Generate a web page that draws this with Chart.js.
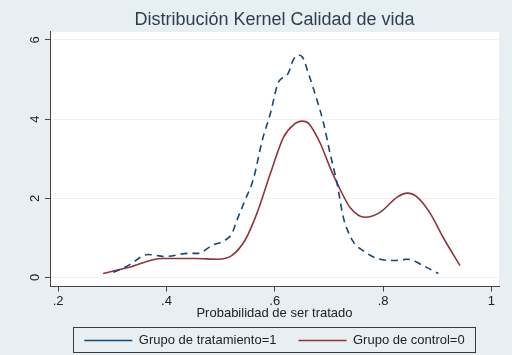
<!DOCTYPE html>
<html>
<head>
<meta charset="utf-8">
<script src="https://cdn.jsdelivr.net/npm/chart.js@4.4.0/dist/chart.umd.min.js"></script>
<style>
  html, body { margin: 0; padding: 0; background: #e8eff2; }
  canvas { display: block; }
</style>
</head>
<body>
<canvas id="kdChart" width="512" height="355"></canvas>
<script>
// data

const tratX = [0.302, 0.329, 0.366, 0.398, 0.440, 0.459, 0.484, 0.508, 0.521, 0.530, 0.545, 0.560, 0.577, 0.592, 0.606, 0.614, 0.625, 0.634, 0.643, 0.651, 0.662, 0.678, 0.690, 0.702, 0.715, 0.726, 0.736, 0.746, 0.763, 0.789, 0.819, 0.846, 0.874, 0.902];
const tratY = [0.13, 0.30, 0.58, 0.53, 0.61, 0.61, 0.81, 0.94, 1.11, 1.44, 1.95, 2.46, 3.47, 4.15, 4.91, 5.04, 5.16, 5.49, 5.62, 5.57, 5.16, 4.48, 3.90, 3.14, 2.38, 1.55, 1.14, 0.88, 0.68, 0.48, 0.43, 0.46, 0.30, 0.10];

const ctrlX = [0.283, 0.329, 0.392, 0.453, 0.495, 0.521, 0.545, 0.567, 0.592, 0.616, 0.634, 0.651, 0.662, 0.684, 0.702, 0.718, 0.739, 0.767, 0.795, 0.826, 0.845, 0.863, 0.887, 0.911, 0.942];
const ctrlY = [0.10, 0.25, 0.48, 0.48, 0.46, 0.56, 0.94, 1.62, 2.63, 3.54, 3.85, 3.95, 3.90, 3.39, 2.78, 2.30, 1.77, 1.52, 1.65, 2.03, 2.13, 2.03, 1.62, 1.01, 0.30];

const xTicks = [0.2, 0.4, 0.6, 0.8, 1];
const yTicks = [0, 2, 4, 6];

const seriesNames = ['Grupo de tratamiento=1', 'Grupo de control=0'];

const textFont = 'Liberation Sans';

function toPoints(xs, ys) {
  return xs.map((x, i) => ({ x: x, y: ys[i] }));
}

// white plot region, rotated y labels, frame round the legend
const stataLook = {
  id: 'stataLook',
  beforeDraw(chart) {
    const a = chart.chartArea, ctx = chart.ctx;
    ctx.save();
    ctx.fillStyle = '#ffffff';
    ctx.fillRect(a.left, a.top, a.right - a.left, a.bottom - a.top);
    ctx.restore();
  },
  afterDraw(chart) {
    const ctx = chart.ctx;
    const ys = chart.scales.y;

    // y tick labels, turned like Stata does
    ctx.save();
    ctx.fillStyle = '#222222';
    ctx.font = '13px "' + textFont + '"';
    ctx.textAlign = 'center';
    ctx.textBaseline = 'middle';
    yTicks.forEach(v => {
      const py = ys.getPixelForValue(v);
      ctx.save();
      ctx.translate(ys.right - 15, py);
      ctx.rotate(-Math.PI / 2);
      ctx.fillText(String(v), 0, 0);
      ctx.restore();
    });
    ctx.restore();

    const lg = chart.legend;
    if (!lg || !lg.legendHitBoxes.length) return;
    const boxes = lg.legendHitBoxes;
    const first = boxes[0], last = boxes[boxes.length - 1];
    const l = first.left - 11, r = last.left + last.width + 11;
    const t = first.top - 7, b = first.top + first.height + 5;
    ctx.save();
    ctx.strokeStyle = '#3a3a3a';
    ctx.lineWidth = 1;
    ctx.strokeRect(Math.round(l) + 0.5, Math.round(t) + 0.5, Math.round(r - l), Math.round(b - t));
    ctx.restore();
  }
};

const ctx = document.getElementById('kdChart').getContext('2d');

const kdChart = new Chart(ctx, {
  type: 'line',
  data: {
    datasets: [{
      label: seriesNames[0],
      data: toPoints(tratX, tratY),
      borderColor: '#1a476f',
      backgroundColor: '#1a476f',
      borderWidth: 1.6,
      borderDash: [7, 5],
      pointRadius: 0,
      cubicInterpolationMode: 'monotone',
      fill: false
    }, {
      label: seriesNames[1],
      data: toPoints(ctrlX, ctrlY),
      borderColor: '#90353b',
      backgroundColor: '#90353b',
      borderWidth: 1.6,
      pointRadius: 0,
      cubicInterpolationMode: 'monotone',
      fill: false
    }]
  },
  options: {
    responsive: false,
    animation: false,
    devicePixelRatio: 1,
    layout: { padding: { left: 0, right: 13, top: 9, bottom: -2 } },
    plugins: {
      title: {
        display: true,
        fullSize: false,
        text: 'Distribución Kernel Calidad de vida',
        color: '#2e3e4e',
        font: { family: textFont, size: 18, weight: 'normal' },
        padding: { top: 0, bottom: 1.4 }
      },
      legend: {
        position: 'bottom',
        fullSize: false,
        labels: {
          usePointStyle: true,
          pointStyle: 'line',
          pointStyleWidth: 48,
          boxWidth: 48,
          boxHeight: 13,
          padding: 22,
          color: '#222222',
          font: { family: textFont, size: 13 }
        }
      },
      tooltip: { enabled: false }
    },
    scales: {
      x: {
        type: 'linear',
        min: 0.185,
        max: 1.014,
        afterBuildTicks: (s) => { s.ticks = xTicks.map(v => ({ value: v })); },
        afterFit: (s) => { s.height = 25.4; },
        ticks: {
          color: '#222222',
          font: { family: textFont, size: 13 },
          padding: 2,
          maxRotation: 0,
          callback: (v) => v === 1 ? '1' : String(v).replace('0.', '.')
        },
        grid: { drawOnChartArea: false, tickLength: 5, tickColor: '#444444' },
        border: { color: '#444444' },
        title: {
          display: true,
          text: 'Probabilidad de ser tratado',
          color: '#222222',
          font: { family: textFont, size: 13 },
          padding: { top: 0, bottom: -9.4 }
        }
      },
      y: {
        min: -0.23,
        max: 6.2,
        afterBuildTicks: (s) => { s.ticks = yTicks.map(v => ({ value: v })); },
        afterFit: (s) => { s.width = 50; },
        ticks: { display: false },
        grid: { color: '#eef2f4', tickLength: 5, tickColor: '#444444' },
        border: { color: '#444444' }
      }
    }
  },
  plugins: [stataLook]
});
</script>
</body>
</html>
